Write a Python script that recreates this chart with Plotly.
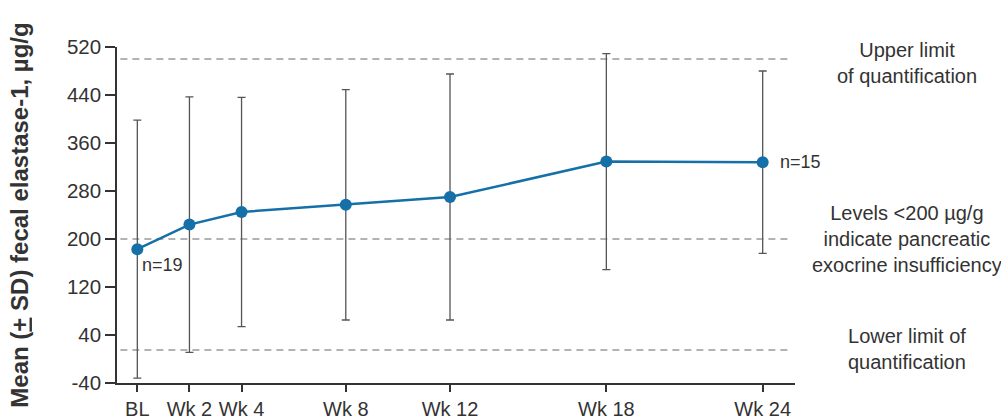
import plotly.graph_objects as go

# Visit timing (weeks) and labels
weeks = [0, 2, 4, 8, 12, 18, 24]
visit_labels = ["BL", "Wk 2", "Wk 4", "Wk 8", "Wk 12", "Wk 18", "Wk 24"]

# Mean fecal elastase-1 (µg/g) and standard deviation at each visit
mean_fe1 = [183, 224, 245, 257, 270, 329, 328]
sd_fe1 = [215, 213, 191, 192, 205, 180, 152]

# Reference levels (µg/g)
ref_levels = [500, 200, 15]
ref_texts = [
    "Upper limit<br>of quantification",
    "Levels <200 µg/g<br>indicate pancreatic<br>exocrine insufficiency",
    "Lower limit of<br>quantification",
]

y_ticks = [-40, 40, 120, 200, 280, 360, 440, 520]
y_tick_text = ["-40", "40", "120", "200", "280", "360", "440", "520"]

FONT = "Arial, 'Liberation Sans', sans-serif"
TXT = "#333333"
BLUE = "#1570a8"

fig = go.Figure()

fig.add_trace(go.Scatter(
    x=weeks, y=mean_fe1,
    mode="lines+markers",
    line=dict(color=BLUE, width=2.5),
    marker=dict(color=BLUE, size=12),
    error_y=dict(type="data", array=sd_fe1, visible=True,
                 color="#555555", thickness=1.3, width=4),
    showlegend=False,
))

# Dashed reference lines
for lvl in ref_levels:
    fig.add_shape(type="line", xref="paper", yref="y",
                  x0=0.005, x1=0.995, y0=lvl, y1=lvl,
                  line=dict(color="#999999", width=1.6, dash="7px,5px"),
                  layer="below")

# Reference line descriptions to the right of the plot
ref_text_y = [493, 200, 16]
for ty, txt in zip(ref_text_y, ref_texts):
    fig.add_annotation(xref="paper", yref="y", x=1.165, y=ty,
                       text=txt, showarrow=False, xanchor="center",
                       yanchor="middle", align="center",
                       font=dict(family=FONT, size=20, color=TXT))

# Sample size labels
fig.add_annotation(x=weeks[0], y=mean_fe1[0], text="n=19", showarrow=False,
                   xanchor="left", yanchor="top", xshift=3, yshift=-4,
                   font=dict(family=FONT, size=18, color=TXT))
fig.add_annotation(x=weeks[-1], y=mean_fe1[-1], text="n=15", showarrow=False,
                   xanchor="left", yanchor="middle", xshift=15,
                   font=dict(family=FONT, size=18, color=TXT))

fig.update_xaxes(
    range=[-0.78, 25.24], automargin=False,
    tickmode="array", tickvals=weeks, ticktext=visit_labels,
    showline=True, linecolor="#333333", linewidth=1.5,
    ticks="outside", ticklen=7, tickcolor="#333333", tickwidth=1.5,
    showgrid=False, zeroline=False,
    tickfont=dict(family=FONT, size=20, color=TXT),
)
fig.update_yaxes(
    range=[-40, 520], automargin=False,
    tickmode="array", tickvals=y_ticks, ticktext=y_tick_text,
    showline=True, linecolor="#333333", linewidth=1.5,
    ticks="outside", ticklen=10, tickcolor="#333333", tickwidth=1.5,
    showgrid=False, zeroline=False,
    tickfont=dict(family=FONT, size=20.5, color=TXT),
    title=dict(text="<b>Mean (<u>+</u> SD) fecal elastase-1, µg/g</b>",
               font=dict(family=FONT, size=24, color=TXT), standoff=32),
)

fig.update_layout(
    width=1001, height=420,
    margin=dict(l=117, r=206, t=47, b=37),
    paper_bgcolor="white", plot_bgcolor="white",
)

fig.write_html("out.html")
